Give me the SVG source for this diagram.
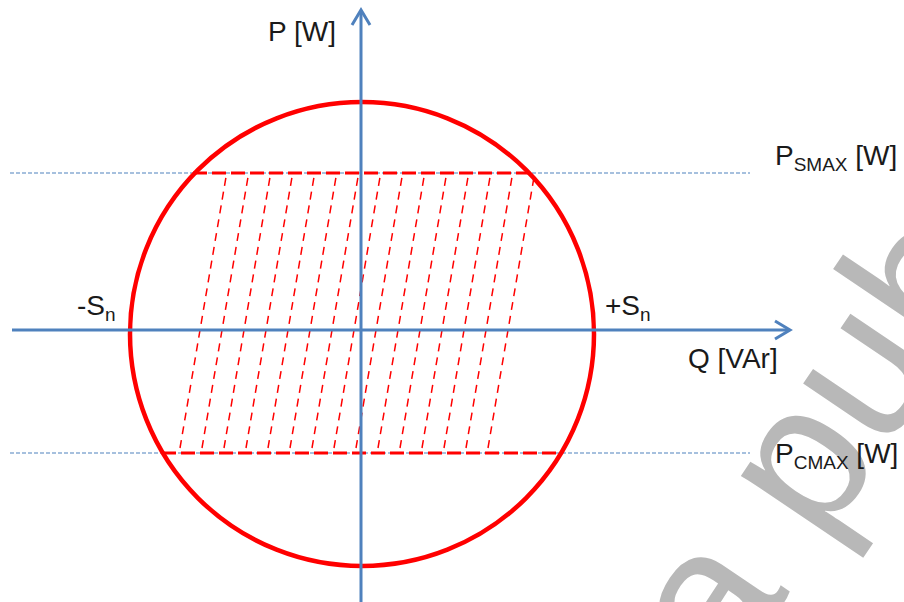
<svg xmlns="http://www.w3.org/2000/svg" width="904" height="602" viewBox="0 0 904 602">
<style>
.lbl{font-family:"Liberation Sans",Arial,sans-serif;font-size:28px;fill:#1a1a1a}
.sub{font-size:19px}
.axis{stroke:#4F81BD;stroke-width:3;fill:none}
.guide{stroke:#4F81BD;stroke-width:1.2;stroke-dasharray:4 2;fill:none}
.lim{stroke:#FF0000;stroke-width:3;stroke-dasharray:14 5;fill:none}
.hatch{stroke:#FF0000;stroke-width:1.5;stroke-dasharray:8 6;fill:none}
</style>
<rect width="904" height="602" fill="#ffffff"/>
<g id="watermark">
<text transform="translate(728,684) rotate(-56)" font-family="Liberation Sans,Arial,sans-serif" font-size="200" fill="#B8B8B8">a pub</text>
</g>
<g id="guides">
<line class="guide" x1="10" y1="173" x2="750" y2="173"/>
<line class="guide" x1="10" y1="453" x2="750" y2="453"/>
</g>
<g id="region">
<g id="hatching">
<line class="hatch" x1="180" y1="448" x2="226" y2="177"/>
<line class="hatch" x1="202" y1="448" x2="248" y2="177"/>
<line class="hatch" x1="224" y1="448" x2="270" y2="177"/>
<line class="hatch" x1="246" y1="448" x2="292" y2="177"/>
<line class="hatch" x1="268" y1="448" x2="314" y2="177"/>
<line class="hatch" x1="290" y1="448" x2="336" y2="177"/>
<line class="hatch" x1="312" y1="448" x2="358" y2="177"/>
<line class="hatch" x1="334" y1="448" x2="380" y2="177"/>
<line class="hatch" x1="356" y1="448" x2="402" y2="177"/>
<line class="hatch" x1="378" y1="448" x2="424" y2="177"/>
<line class="hatch" x1="400" y1="448" x2="446" y2="177"/>
<line class="hatch" x1="422" y1="448" x2="468" y2="177"/>
<line class="hatch" x1="444" y1="448" x2="490" y2="177"/>
<line class="hatch" x1="466" y1="448" x2="512" y2="177"/>
<line class="hatch" x1="488" y1="448" x2="534" y2="177"/>
</g>
<line class="lim" x1="193" y1="173" x2="532" y2="173"/>
<line class="lim" x1="162" y1="453" x2="562" y2="453"/>
</g>
<g id="circle">
<circle cx="362" cy="334" r="232" fill="none" stroke="#FF0000" stroke-width="4.5"/>
</g>
<g id="axes">
<line class="axis" x1="12" y1="330" x2="789" y2="330"/>
<polyline class="axis" points="775,321 790,330 775,339"/>
<line class="axis" x1="361" y1="602" x2="361" y2="11"/>
<polyline class="axis" points="352,25 361,10 370,25"/>
</g>
<g id="labels">
<text class="lbl" x="268" y="41">P [W]</text>
<text class="lbl" x="688" y="368">Q [VAr]</text>
<text class="lbl" x="77" y="315">-S<tspan class="sub" dy="6">n</tspan></text>
<text class="lbl" x="605" y="315">+S<tspan class="sub" dy="6">n</tspan></text>
<text class="lbl" x="775" y="165">P<tspan class="sub" dy="6">SMAX</tspan><tspan dy="-6"> [W]</tspan></text>
<text class="lbl" x="775" y="463">P<tspan class="sub" dy="6">CMAX</tspan><tspan dy="-6"> [W]</tspan></text>
</g>
</svg>
